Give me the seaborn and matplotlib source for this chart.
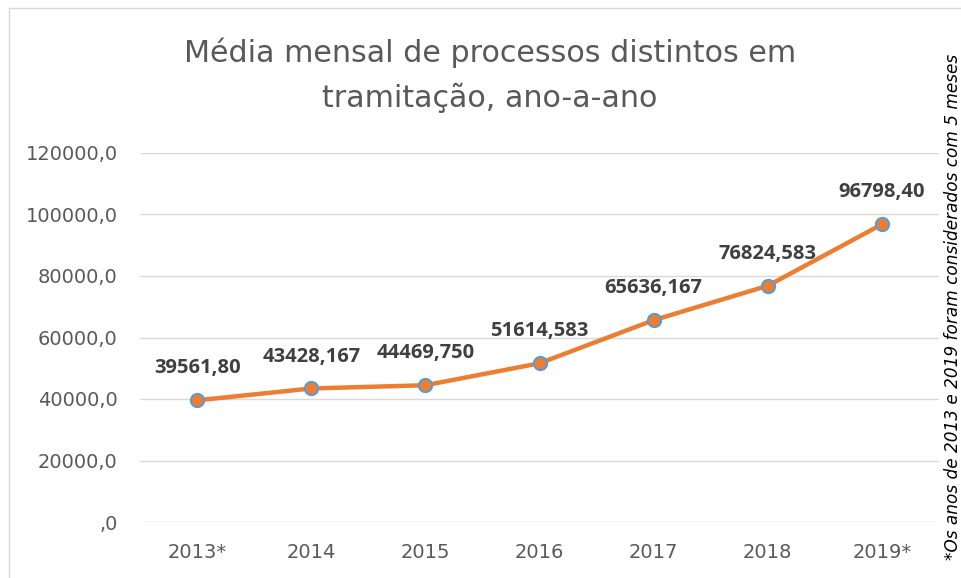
import matplotlib
matplotlib.use("Agg")
import matplotlib.pyplot as plt
import seaborn as sns
import pandas as pd
from matplotlib.patches import Rectangle

categories = ["2013*", "2014", "2015", "2016", "2017", "2018", "2019*"]
values = [39561.80, 43428.167, 44469.750, 51614.583, 65636.167, 76824.583, 96798.40]
value_labels = ["39561,80", "43428,167", "44469,750", "51614,583", "65636,167", "76824,583", "96798,40"]
y_ticks = [0, 20000, 40000, 60000, 80000, 100000, 120000]
y_tick_labels = [",0", "20000,0", "40000,0", "60000,0", "80000,0", "100000,0", "120000,0"]
title = "Média mensal de processos distintos em\ntramitação, ano-a-ano"
note = "*Os anos de 2013 e 2019 foram considerados com 5 meses"

sns.set_theme(style="white")
plt.rcParams["font.family"] = ["DejaVu Sans"]

df = pd.DataFrame({"ano": categories, "valor": values})

fig = plt.figure(figsize=(9.61, 5.78), dpi=100)
fig.patch.set_facecolor("white")
# chart border
fig.add_artist(Rectangle((9 / 961, -0.1), 1.2, 1 - 8 / 578 + 0.1, transform=fig.transFigure,
                         fill=False, edgecolor="#D9D9D9", linewidth=1.0))

ax = fig.add_axes([140 / 961, 1 - 522 / 578, (939 - 140) / 961, (522 - 153) / 578])
x = list(range(len(categories)))
sns.lineplot(x=x, y=df["valor"], ax=ax, color="#ED7D31", linewidth=3.2,
             marker="o", markersize=9.5, markerfacecolor="#ED7D31",
             markeredgecolor="#5B9BD5", markeredgewidth=1.5)

ax.set_xlim(-0.5, len(categories) - 0.5)
ax.set_ylim(0, 120000)
ax.set_yticks(y_ticks)
ax.set_yticklabels(y_tick_labels, fontsize=14, color="#595959")
ax.set_xticks(x)
ax.set_xticklabels(categories, fontsize=14, color="#595959")
ax.tick_params(axis="y", length=0, pad=16)
ax.tick_params(axis="x", length=0, pad=15)
ax.grid(axis="y", color="#D9D9D9", linewidth=1.0)
ax.set_axisbelow(True)
for s in ax.spines.values():
    s.set_visible(False)
ax.set_xlabel("")
ax.set_ylabel("")

for xi, v, lab in zip(x, values, value_labels):
    ax.annotate(lab, (xi, v), xytext=(0, 23), textcoords="offset points",
                ha="center", va="center", fontsize=14.5, fontweight="bold", color="#404040",
                family=["Open Sans", "DejaVu Sans"])

fig.text(490 / 961, 1 - 75 / 578, title, ha="center", va="center", fontsize=21.7,
         color="#595959", linespacing=1.62)
fig.text(953 / 961, 1 - 307 / 578, note, rotation=90, ha="center", va="center",
         fontsize=12.2, style="italic", color="black")

fig.savefig("out.png", dpi=100)
